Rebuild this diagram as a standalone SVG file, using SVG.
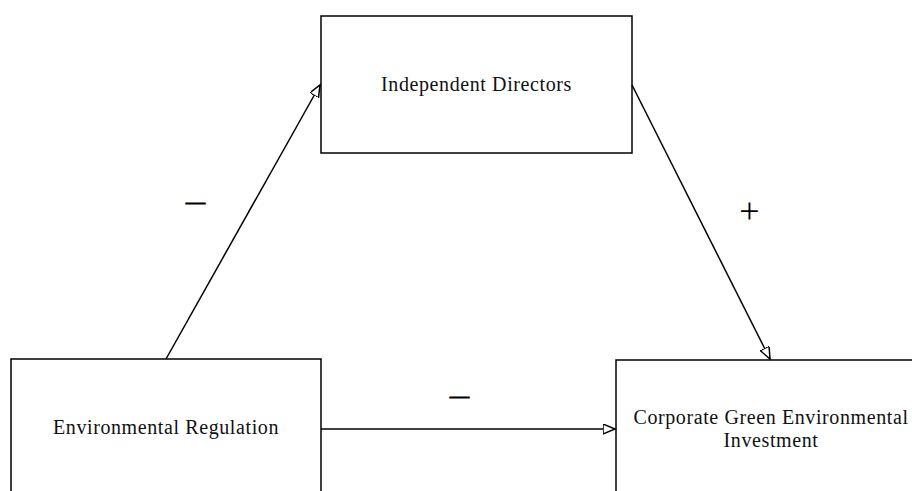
<svg xmlns="http://www.w3.org/2000/svg" width="912" height="491" viewBox="0 0 912 491">
<style>
.box{fill:#fff;stroke:#000;stroke-width:1.5}
.lbl{font-family:"Liberation Serif","Times New Roman",serif;font-size:20px;letter-spacing:0.6px;fill:#111;text-anchor:middle}
.edge{fill:none;stroke:#000;stroke-width:1.5}
.sign{font-family:"Liberation Serif","Times New Roman",serif;text-anchor:middle;fill:#000}
</style>
<defs>
<marker id="arr" markerWidth="14" markerHeight="12" refX="12" refY="5" orient="auto" markerUnits="userSpaceOnUse" viewBox="0 0 14 12">
<path d="M0,0 L12,5 L0,10 Z" fill="#fff" stroke="#000" stroke-width="1.5"/>
</marker>
</defs>
<rect width="912" height="491" fill="#fff"/>
<g id="node-independent-directors">
<rect class="box" x="321" y="16" width="311" height="137"/>
<text class="lbl" x="476.5" y="91">Independent Directors</text>
</g>
<g id="node-environmental-regulation">
<rect class="box" x="11" y="359" width="310" height="150"/>
<text class="lbl" x="166" y="434">Environmental Regulation</text>
</g>
<g id="node-corporate-green">
<rect class="box" x="616" y="360" width="310" height="150"/>
<text class="lbl" x="771" y="424">Corporate Green Environmental</text>
<text class="lbl" x="771" y="447">Investment</text>
</g>
<g id="connectors">
<line class="edge" x1="166" y1="359" x2="320" y2="85" marker-end="url(#arr)"/>
<line class="edge" x1="632" y1="85" x2="770" y2="359" marker-end="url(#arr)"/>
<line class="edge" x1="321" y1="429" x2="615" y2="429" marker-end="url(#arr)"/>
</g>
<g id="labels">
<text class="sign" x="195.5" y="207.5" font-size="19" stroke="#000" stroke-width="1.2">—</text>
<text class="sign" x="459.5" y="401.5" font-size="19" stroke="#000" stroke-width="1.2">—</text>
<text class="sign" x="749.5" y="223" font-size="36" fill="#333">+</text>
</g>
</svg>
